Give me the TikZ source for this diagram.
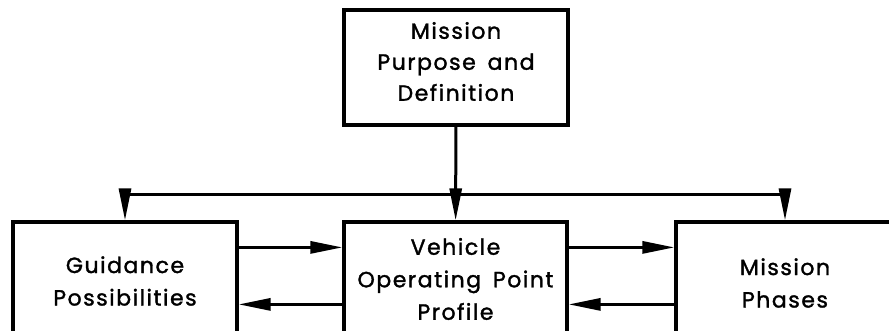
\documentclass[tikz,border=0pt]{standalone}
\usepackage{fontspec}
\setmainfont[LetterSpace=7,WordSpace=1.6,FakeBold=1.5]{Poppins}
\usetikzlibrary{positioning,arrows.meta}

\begin{document}
\begin{tikzpicture}[x=1pt,y=-1pt,>={Triangle[length=32pt,width=12pt]}]

\tikzstyle{block}=[rectangle,draw,line width=3.2pt,align=center,inner sep=0pt,font=\fontsize{22}{32.5}\selectfont]
\tikzstyle{link}=[line width=3pt]

\useasboundingbox (0,0) rectangle (889,331);
\clip (0,0) rectangle (889,331);

\node[block,minimum width=224pt,minimum height=115pt] (mission) at (456,67.5) {};
\node[align=center,inner sep=0pt,font=\fontsize{22}{31}\selectfont] (missionText) at ([yshift=6pt]mission.center) {Mission\\Purpose and\\Definition};

\node[block,minimum width=224pt,minimum height=118pt] (guidance) at (125,281) {Guidance\\Possibilities};
\node[block,minimum width=223pt,minimum height=114pt] (profile) at (455.5,279) {Vehicle\\Operating Point\\Profile};
\node[block,minimum width=218pt,minimum height=122pt] (phases) at (785,283) {Mission\\Phases};

\coordinate (split) at (mission.south |- 0,195);

%top down
\draw[link,->] (mission) -- (profile);
\draw[link,->] (split) -| (guidance);
\draw[link,->] (split) -| (phases);

%between the boxes
\draw[link,->] ([yshift=-27pt]guidance.north east) -- ([yshift=-27pt]profile.north west);
\draw[link,->] ([yshift=-84pt]profile.north west) -- ([yshift=-84pt]guidance.north east);
\draw[link,->] ([yshift=-27pt]profile.north east) -- ([yshift=-27pt]phases.north west);
\draw[link,->] ([yshift=-84pt]phases.north west) -- ([yshift=-84pt]profile.north east);

\end{tikzpicture}
\end{document}
